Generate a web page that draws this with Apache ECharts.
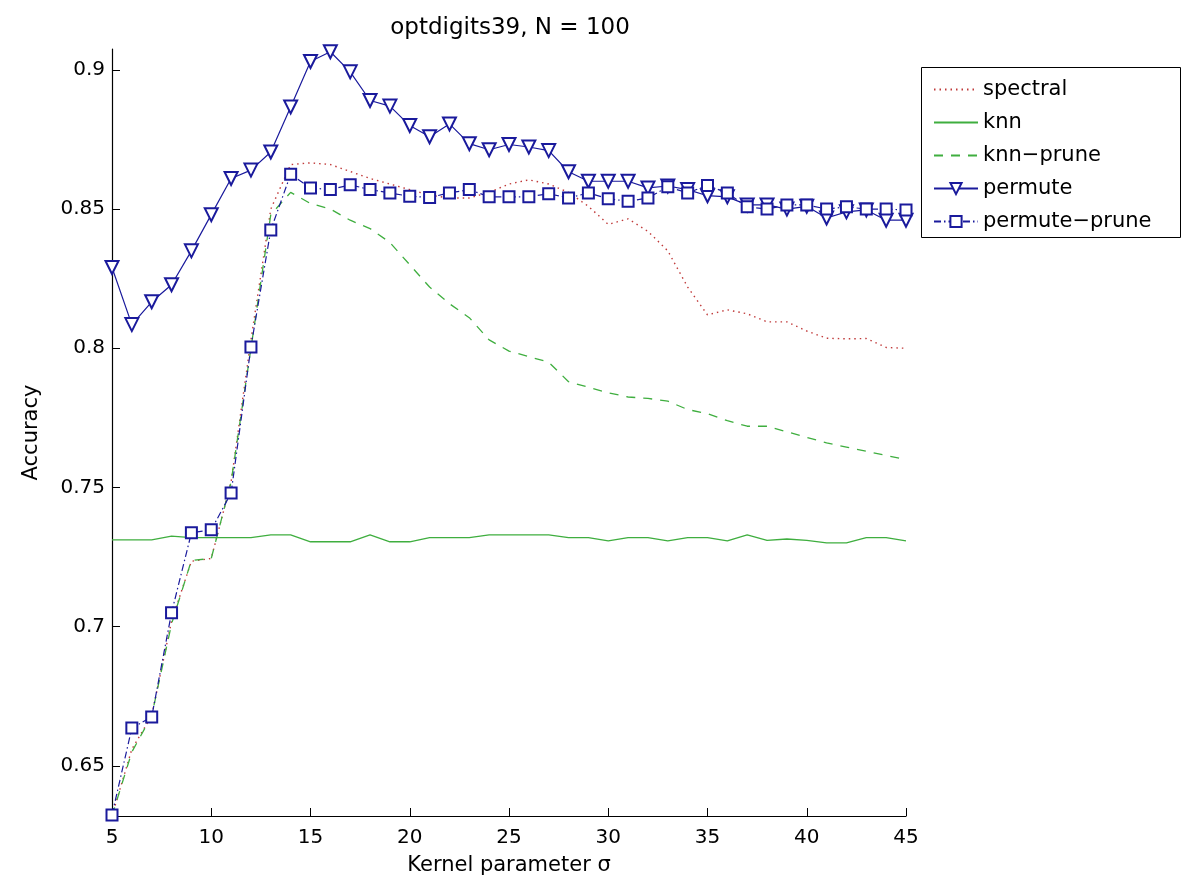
<!DOCTYPE html>
<html>
<head>
<meta charset="utf-8">
<script src="https://cdn.jsdelivr.net/npm/echarts@6/dist/echarts.min.js"></script>
<style>
  html, body { margin: 0; padding: 0; background: #fff; }
  #chart { width: 1181px; height: 881px; }
</style>
</head>
<body>
<div id="chart"></div>
<script>
const sigma = [5,6,7,8,9,10,11,12,13,14,15,16,17,18,19,20,21,22,23,24,25,26,27,28,29,30,31,32,33,34,35,36,37,38,39,40,41,42,43,44,45];

const spectral = [0.632,0.656,0.668,0.702,0.7235,0.7245,0.752,0.803,0.850,0.866,0.8666,0.866,0.8635,0.861,0.859,0.857,0.855,0.854,0.854,0.856,0.859,0.8605,0.859,0.856,0.851,0.8445,0.8465,0.842,0.835,0.822,0.812,0.8138,0.8124,0.8095,0.8095,0.8062,0.8036,0.8034,0.8035,0.8003,0.800];

const knn = [0.7312,0.7312,0.7312,0.7325,0.732,0.732,0.732,0.732,0.733,0.733,0.7305,0.7305,0.7305,0.733,0.7305,0.7305,0.732,0.732,0.732,0.733,0.733,0.733,0.733,0.732,0.732,0.7308,0.732,0.732,0.7308,0.732,0.732,0.7308,0.733,0.731,0.7315,0.731,0.7301,0.7301,0.732,0.732,0.7308];

const knnPrune = [0.632,0.655,0.668,0.701,0.7238,0.7245,0.752,0.800,0.848,0.856,0.852,0.850,0.846,0.843,0.838,0.830,0.822,0.816,0.811,0.803,0.799,0.797,0.795,0.788,0.786,0.784,0.7825,0.782,0.781,0.778,0.7765,0.774,0.772,0.772,0.770,0.768,0.766,0.7645,0.763,0.7615,0.760];

const permute = [0.829,0.8085,0.8167,0.8228,0.835,0.848,0.861,0.864,0.8705,0.8867,0.903,0.9065,0.8993,0.889,0.887,0.880,0.876,0.8806,0.8735,0.8713,0.8732,0.8723,0.871,0.8634,0.860,0.860,0.860,0.8576,0.8583,0.857,0.8548,0.8544,0.8515,0.8515,0.850,0.851,0.8468,0.849,0.8497,0.846,0.846];

const permutePrune = [0.6324,0.6636,0.6676,0.705,0.7337,0.7348,0.748,0.8005,0.8425,0.8625,0.8576,0.857,0.8587,0.857,0.8558,0.8546,0.8542,0.8558,0.857,0.8544,0.8544,0.8544,0.8555,0.854,0.8558,0.8537,0.8528,0.854,0.858,0.8558,0.8585,0.8558,0.8508,0.850,0.8515,0.8515,0.850,0.8508,0.850,0.850,0.8497];

const yTicks = [0.65, 0.7, 0.75, 0.8, 0.85, 0.9];
const xTicks = [5, 10, 15, 20, 25, 30, 35, 40, 45];

const titleText = 'optdigits39, N = 100';
const xName = 'Kernel parameter σ';
const yName = 'Accuracy';
const names = ['spectral', 'knn', 'knn\u2212prune', 'permute', 'permute\u2212prune'];

const FONT = '"DejaVu Sans", "Liberation Sans", Arial, sans-serif';
const navy = '#1a1a9c';
const hidden = { color: 'rgba(0,0,0,0)', borderColor: 'rgba(0,0,0,0)', borderWidth: 0 };

function pairs(ys) { return sigma.map((x, i) => [x, ys[i]]); }

const chart = echarts.init(document.getElementById('chart'), null, { renderer: 'canvas' });

chart.setOption({
  backgroundColor: '#ffffff',
  animation: false,
  title: {
    text: titleText,
    left: 505,
    top: 12,
    textAlign: 'center',
    textStyle: { fontFamily: FONT, fontSize: 23, fontWeight: 'normal', color: '#000' }
  },
  grid: { left: 112, right: 275, top: 49, bottom: 65, containLabel: false },
  xAxis: {
    type: 'value',
    min: 5, max: 45, interval: 5,
    name: xName, nameLocation: 'middle', nameGap: 39,
    nameTextStyle: { fontFamily: FONT, fontSize: 21, color: '#000' },
    axisLine: { show: true, lineStyle: { color: '#000', width: 1.2 } },
    axisTick: { show: true, inside: true, length: 8, lineStyle: { color: '#000' }, customValues: xTicks },
    axisLabel: { fontFamily: FONT, fontSize: 20, color: '#000', margin: 12, customValues: xTicks },
    splitLine: { show: false }
  },
  yAxis: {
    type: 'value',
    min: 0.632, max: 0.9075,
    name: yName, nameLocation: 'middle', nameGap: 70, nameRotate: 90,
    nameTextStyle: { fontFamily: FONT, fontSize: 21, color: '#000' },
    axisLine: { show: true, lineStyle: { color: '#000', width: 1.2 } },
    axisTick: { show: true, inside: true, length: 8, lineStyle: { color: '#000' }, customValues: yTicks },
    axisLabel: { fontFamily: FONT, fontSize: 20, color: '#000', margin: 7, customValues: yTicks,
      formatter: v => String(+v.toFixed(2)) },
    splitLine: { show: false }
  },
  legend: {
    orient: 'vertical',
    left: 928, top: 74,
    itemWidth: 44, itemHeight: 14, itemGap: 12,
    textStyle: { fontFamily: FONT, fontSize: 21, color: '#000', lineHeight: 21 },
    data: [
      { name: names[0], itemStyle: hidden },
      { name: names[1], itemStyle: hidden },
      { name: names[2], itemStyle: hidden },
      { name: names[3] },
      { name: names[4] }
    ]
  },
  graphic: [{
    type: 'rect', silent: true, z: -1,
    shape: { x: 921.5, y: 67.5, width: 259, height: 170 },
    style: { fill: '#fff', stroke: '#000', lineWidth: 1 }
  }],
  series: [
    { name: names[0], type: 'line', data: pairs(spectral), showSymbol: false, symbol: 'none',
      lineStyle: { color: '#c03a3a', width: 1.4, type: [1.5, 4] }, itemStyle: { color: '#c03a3a' } },
    { name: names[1], type: 'line', data: pairs(knn), showSymbol: false, symbol: 'none',
      lineStyle: { color: '#3fae3f', width: 1.3, type: 'solid' }, itemStyle: { color: '#3fae3f' } },
    { name: names[2], type: 'line', data: pairs(knnPrune), showSymbol: false, symbol: 'none',
      lineStyle: { color: '#3fae3f', width: 1.3, type: [9, 8] }, itemStyle: { color: '#3fae3f' } },
    { name: names[3], type: 'line', data: pairs(permute), symbol: 'emptyTriangle', symbolRotate: 180, symbolSize: 13,
      lineStyle: { color: navy, width: 1.2, type: 'solid' }, itemStyle: { color: navy, borderWidth: 1.3 } },
    { name: names[4], type: 'line', data: pairs(permutePrune), symbol: 'emptyRect', symbolSize: 11,
      lineStyle: { color: navy, width: 1.2, type: [7, 3, 1.5, 3] }, itemStyle: { color: navy, borderWidth: 1.3 } }
  ]
});
</script>
</body>
</html>
